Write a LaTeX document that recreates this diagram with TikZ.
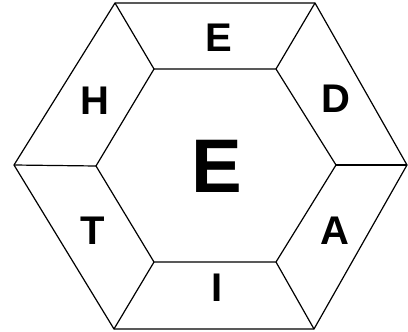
\documentclass[tikz,border=0pt]{standalone}
\usepackage{fontspec}
\setmainfont{Liberation Sans}
\usepackage{tikz}

\begin{document}
\begin{tikzpicture}[x=1pt, y=-1pt, line width=1.2pt, line join=miter,
    letter/.style={font=\fontsize{40}{40}\selectfont\bfseries, inner sep=0pt},
    bigletter/.style={font=\fontsize{76}{76}\selectfont\bfseries, inner sep=0pt}]
    \useasboundingbox (0,0) rectangle (408,332);

    % Vertices of the outer hexagon
    \coordinate (o1) at (115,3);
    \coordinate (o2) at (315,3);
    \coordinate (o3) at (407,165);
    \coordinate (o4) at (314,329);
    \coordinate (o5) at (114,329);
    \coordinate (o6) at (14,165);

    % Vertices of the inner hexagon
    \coordinate (i1) at (154,69);
    \coordinate (i2) at (276,69);
    \coordinate (i3) at (336,165);
    \coordinate (i4) at (276,262);
    \coordinate (i5) at (154,262);
    \coordinate (i6) at (96,166);

    % Hexagons
    \draw (o1) -- (o2) -- (o3) -- (o4) -- (o5) -- (o6) -- cycle;
    \draw (i1) -- (i2) -- (i3) -- (i4) -- (i5) -- (i6) -- cycle;

    % Spokes between the two hexagons
    \draw (o1) -- (i1);
    \draw (o2) -- (i2);
    \draw (o3) -- (i3);
    \draw (o4) -- (i4);
    \draw (o5) -- (i5);
    \draw (o6) -- (i6);

    % Letters in the segments
    \node[letter] (top) at (219,38) {E};
    \node[letter] (topright) at (336,99) {D};
    \node[letter] (botright) at (335,231) {A};
    \node[letter] (bottom) at (217,288) {I};
    \node[letter] (botleft) at (92.5,231) {T};
    \node[letter] (topleft) at (94.5,101) {H};

    % Letter in the middle
    \node[bigletter] (centre) at (217,166) {E};
\end{tikzpicture}
\end{document}
